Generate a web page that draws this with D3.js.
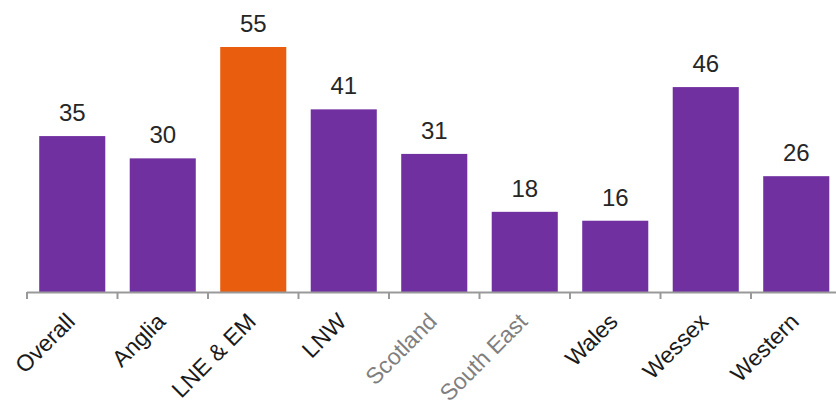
<!DOCTYPE html>
<html>
<head>
<meta charset="utf-8">
<script src="https://cdn.jsdelivr.net/npm/d3@7"></script>
<style>
  body { margin: 0; background: #fff; }
  text { font-family: "Liberation Sans", Arial, sans-serif; }
</style>
</head>
<body>
<div id="datavis"></div>
<script>
let categories = ["Overall", "Anglia", "LNE & EM", "LNW", "Scotland", "South East", "Wales", "Wessex", "Western"]
let values = [35, 30, 55, 41, 31, 18, 16, 46, 26]
let highlight = ["LNE & EM"]
let greyLabels = ["Scotland", "South East"]

let width = 836,
    height = 402

let x0 = 27, baseline = 292, step = 90.5

let svg = d3.select('#datavis')
  .append('svg')
    .attr('width', width)
    .attr('height', height)

let x = d3.scaleBand()
  .domain(categories)
  .range([x0, x0 + categories.length * step])
  .paddingInner(0.27)
  .paddingOuter(0.135)

let y = d3.scaleLinear()
  .domain([0, 55])
  .range([baseline, 47])

// bars
svg.selectAll('bars')
  .data(categories)
  .enter()
  .append('rect')
    .attr('x', d => x(d))
    .attr('width', x.bandwidth())
    .attr('y', (d, i) => y(values[i]))
    .attr('height', (d, i) => y(0) - y(values[i]))
    .attr('fill', d => highlight.includes(d) ? '#E95D0F' : '#7030A0')

// value labels
svg.selectAll('vals')
  .data(categories)
  .enter()
  .append('text')
    .attr('x', d => x(d) + x.bandwidth() / 2)
    .attr('y', (d, i) => y(values[i]) - 15)
    .attr('text-anchor', 'middle')
    .style('font-size', '24px')
    .style('fill', '#262626')
    .text((d, i) => values[i])

// axis line + ticks at band edges
svg.append('line')
  .attr('x1', x0).attr('x2', width)
  .attr('y1', baseline + 0.5).attr('y2', baseline + 0.5)
  .attr('stroke', '#999').attr('stroke-width', 2)

svg.selectAll('ticks')
  .data(d3.range(categories.length + 1))
  .enter()
  .append('line')
    .attr('x1', i => x0 + i * step).attr('x2', i => x0 + i * step)
    .attr('y1', baseline).attr('y2', baseline + 7)
    .attr('stroke', '#999').attr('stroke-width', 2)

// category labels
svg.selectAll('cats')
  .data(categories)
  .enter()
  .append('text')
    .attr('transform', d => `translate(${x(d) + x.bandwidth() / 2 + 4},${baseline + 31}) rotate(-45)`)
    .attr('text-anchor', 'end')
    .style('font-size', '23px')
    .style('fill', d => greyLabels.includes(d) ? '#7f7f7f' : '#1a1a1a')
    .text(d => d)
</script>
</body>
</html>
